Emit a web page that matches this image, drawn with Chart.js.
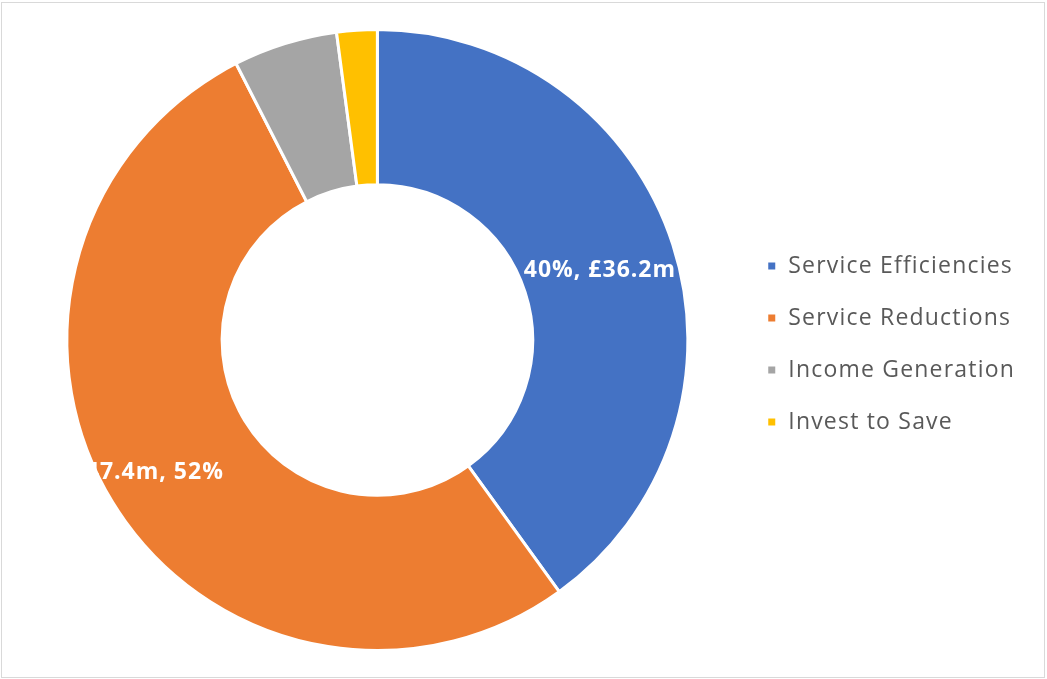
<!DOCTYPE html>
<html>
<head>
<meta charset="utf-8">
<script src="https://cdn.jsdelivr.net/npm/chart.js@4.4.0/dist/chart.umd.min.js"></script>
<style>
  html, body { margin: 0; padding: 0; background: #fff; }
  #wrap { position: relative; width: 1047px; height: 679px; }
  #frame { position: absolute; left: 1px; top: 2px; width: 1042px; height: 674px;
           border: 1px solid #d9d9d9; pointer-events: none; }
</style>
</head>
<body>
<div id="wrap">
  <canvas id="donut" width="1047" height="679"></canvas>
  <div id="frame"></div>
</div>
<script>
'use strict';

// savings by category (£m)
var categorias = ['Service Efficiencies', 'Service Reductions', 'Income Generation', 'Invest to Save'];
var valores    = [36.2, 47.4, 4.9, 1.9];
var colores    = ['#4472C4', '#ED7D31', '#A5A5A5', '#FFC000'];
// which slices get a label, and in what order the text is written
var formatoEtiqueta = ['pct-val', 'val-pct', null, null];
// nudge of each label away from the middle of the ring (px)
var desplazamiento  = [[1, 2], [-31, 11], [0, 0], [0, 0]];

var total = valores.reduce((a, b) => a + b, 0);

// the original font runs wider than Open Sans, so space the letters a bit
// (canvas resize wipes ctx state, so set it again before layout and draw)
var espaciado = {
  id: 'espaciado',
  beforeLayout(chart) { chart.ctx.letterSpacing = '1.2px'; },
  beforeDraw(chart)   { chart.ctx.letterSpacing = '1.2px'; }
};

// white data labels drawn on top of the slices
var etiquetas = {
  id: 'etiquetas',
  afterDatasetsDraw(chart) {
    var ctx  = chart.ctx;
    var meta = chart.getDatasetMeta(0);
    ctx.save();
    ctx.font = 'bold 23px "Open Sans"';
    ctx.letterSpacing = '1px';
    ctx.fillStyle = '#ffffff';
    ctx.textAlign = 'center';
    ctx.textBaseline = 'middle';
    meta.data.forEach((arc, i) => {
      var fmt = formatoEtiqueta[i];
      if (!fmt) return;
      var pct = Math.round(valores[i] / total * 100) + '%';
      var val = '£' + valores[i].toFixed(1) + 'm';
      var txt = fmt === 'pct-val' ? pct + ', ' + val : val + ', ' + pct;
      var ang = (arc.startAngle + arc.endAngle) / 2;
      var r   = (arc.innerRadius + arc.outerRadius) / 2;
      var x = arc.x + Math.cos(ang) * r + desplazamiento[i][0];
      var y = arc.y + Math.sin(ang) * r + desplazamiento[i][1];
      ctx.fillText(txt, x, y);
    });
    ctx.restore();
  }
};

new Chart(document.getElementById('donut').getContext('2d'), {
  type: 'doughnut',
  data: {
    labels: categorias,
    datasets: [{
      data: valores,
      backgroundColor: colores,
      borderColor: '#ffffff',
      borderWidth: 3
    }]
  },
  options: {
    responsive: false,
    animation: false,
    cutout: '50%',
    layout: { padding: { left: 17, right: 22, top: 28, bottom: 27 } },
    plugins: {
      tooltip: { enabled: false },
      legend: {
        position: 'right',
        title: { display: true, text: '', padding: { top: 7, bottom: 0 }, font: { size: 1, lineHeight: 1 } },
        labels: {
          boxWidth: 10,
          boxHeight: 10,
          padding: 29,
          color: '#595959',
          font: { family: '"Open Sans"', size: 23 }
        }
      }
    }
  },
  plugins: [espaciado, etiquetas]
});
</script>
</body>
</html>
